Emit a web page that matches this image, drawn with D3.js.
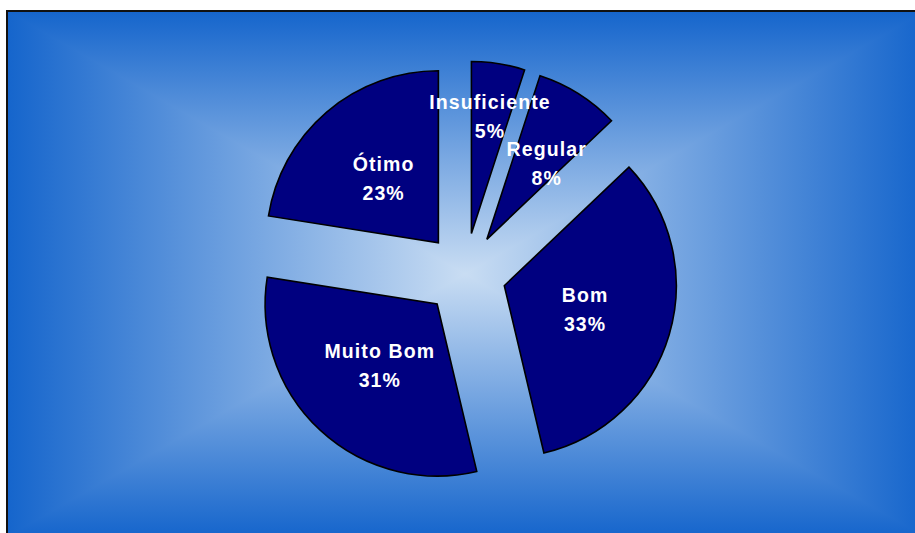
<!DOCTYPE html>
<html>
<head>
<meta charset="utf-8">
<script src="https://cdn.jsdelivr.net/npm/d3@7"></script>
<style>
  html, body { margin: 0; padding: 0; background: #ffffff; overflow: hidden; }
  svg { display: block; }
</style>
</head>
<body>
<svg id="chart" width="915" height="533"></svg>
<script>
// ---- data ----
const categories = ["Insuficiente", "Regular", "Bom", "Muito Bom", "Ótimo"];
const values = [5, 7.9, 33.4, 31.2, 22.5];

// ---- layout ----
const area = { x0: 7, y0: 11, x1: 925, y1: 537 };
const cx = 465, cy = 274;
const radius = 172;
const explode = 41;
const edgeColor = "#1565cc";
const centerColor = "#c9ddf3";
const sliceColor = "#000080";
const fontSize = 19.5;
const lineGap = 14.5;

const svg = d3.select("#chart");
const defs = svg.append("defs");

const gv = defs.append("linearGradient").attr("id", "gv")
  .attr("gradientUnits", "userSpaceOnUse")
  .attr("x1", 0).attr("y1", area.y0).attr("x2", 0).attr("y2", area.y1);
gv.append("stop").attr("offset", 0).attr("stop-color", edgeColor);
gv.append("stop").attr("offset", (cy - area.y0) / (area.y1 - area.y0)).attr("stop-color", centerColor);
gv.append("stop").attr("offset", 1).attr("stop-color", edgeColor);

const gh = defs.append("linearGradient").attr("id", "gh")
  .attr("gradientUnits", "userSpaceOnUse")
  .attr("x1", area.x0).attr("y1", 0).attr("x2", area.x1).attr("y2", 0);
gh.append("stop").attr("offset", 0).attr("stop-color", edgeColor);
gh.append("stop").attr("offset", (cx - area.x0) / (area.x1 - area.x0)).attr("stop-color", centerColor);
gh.append("stop").attr("offset", 1).attr("stop-color", edgeColor);

const bg = svg.append("g");
bg.append("rect")
  .attr("x", area.x0).attr("y", area.y0)
  .attr("width", area.x1 - area.x0).attr("height", area.y1 - area.y0)
  .attr("fill", "url(#gv)");
bg.append("path")
  .attr("d", `M${area.x0},${area.y0} L${cx},${cy} L${area.x0},${area.y1} Z`)
  .attr("fill", "url(#gh)");
bg.append("path")
  .attr("d", `M${area.x1},${area.y0} L${cx},${cy} L${area.x1},${area.y1} Z`)
  .attr("fill", "url(#gh)");
svg.append("rect")
  .attr("x", area.x0).attr("y", area.y0)
  .attr("width", area.x1 - area.x0).attr("height", area.y1 - area.y0)
  .attr("fill", "none").attr("stroke", "#111").attr("stroke-width", 2);

// ---- pie ----
const pie = d3.pie().sort(null).value(d => d.value).startAngle(0).endAngle(2 * Math.PI);
const data = categories.map((c, i) => ({ name: c, value: values[i] }));
const arcs = pie(data);
const total = d3.sum(values);
const arc = d3.arc().innerRadius(0).outerRadius(radius);

const g = svg.append("g").attr("transform", `translate(${cx},${cy})`);
const offset = d => {
  const m = (d.startAngle + d.endAngle) / 2;
  return [explode * Math.sin(m), -explode * Math.cos(m)];
};

g.append("g").selectAll("path").data(arcs).enter().append("path")
  .attr("transform", d => `translate(${offset(d)})`)
  .attr("d", arc)
  .attr("fill", sliceColor)
  .attr("stroke", "#000")
  .attr("stroke-width", 1.6);

const labels = g.append("g");
const placedBoxes = [];
const boxesOverlap = (a, b, pad) =>
  !(a.x1 + pad < b.x0 || b.x1 + pad < a.x0 || a.y1 + pad < b.y0 || b.y1 + pad < a.y0);

arcs.forEach(d => {
  const span = d.endAngle - d.startAngle;
  const f = 0.49 + 0.21 * Math.max(0, Math.min(1, (0.6 - span) / 0.3));
  const [ox, oy] = offset(d);
  const t = labels.append("text")
    .attr("text-anchor", "middle")
    .attr("fill", "#ffffff")
    .attr("font-family", "'Liberation Sans', Arial, sans-serif")
    .attr("font-weight", "bold")
    .attr("font-size", fontSize)
    .attr("letter-spacing", 1.1);
  const l1 = t.append("tspan").attr("dominant-baseline", "central").text(d.data.name);
  const l2 = t.append("tspan").attr("dominant-baseline", "central")
    .text(Math.round(d.data.value / total * 100) + "%");
  const w1 = l1.node().getComputedTextLength();
  const w2 = l2.node().getComputedTextLength();
  const boxesAt = (ang) => {
    const lx = ox + f * radius * Math.sin(ang);
    const ly = oy - f * radius * Math.cos(ang);
    return {
      lx, ly,
      boxes: [
        { x0: lx - w1 / 2, x1: lx + w1 / 2, y0: ly - lineGap - 8, y1: ly - lineGap + 8 },
        { x0: lx - w2 / 2, x1: lx + w2 / 2, y0: ly + lineGap - 8, y1: ly + lineGap + 8 }
      ]
    };
  };
  // start at mid-angle; rotate toward the end angle if it collides with an earlier label
  let ang = (d.startAngle + d.endAngle) / 2;
  let pos = boxesAt(ang);
  const step = Math.PI / 360;
  while (ang < d.endAngle &&
         pos.boxes.some(b => placedBoxes.some(p => boxesOverlap(b, p, 2)))) {
    ang += step;
    pos = boxesAt(ang);
  }
  placedBoxes.push(...pos.boxes);
  l1.attr("x", pos.lx).attr("y", pos.ly - lineGap);
  l2.attr("x", pos.lx).attr("y", pos.ly + lineGap);
});
</script>
</body>
</html>
